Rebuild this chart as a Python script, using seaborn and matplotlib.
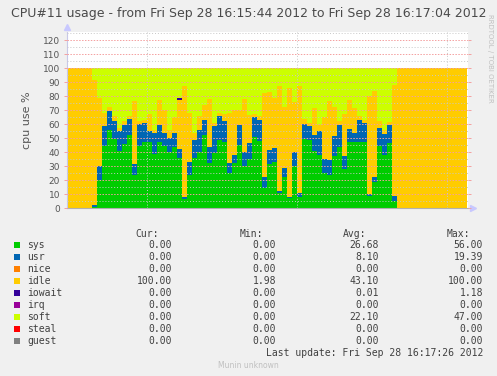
import numpy as np
import pandas as pd
import seaborn as sns
import matplotlib
matplotlib.use("Agg")
import matplotlib.pyplot as plt
from matplotlib.patches import Rectangle

# one sample per second, 16:15:44 -> 16:17:04
sys_vals = [0, 0, 0, 0, 0,
            1.0, 20.0, 44.5, 56.0, 49.5, 41.0, 45.7, 52.4, 24.0, 44.5,
            47.6, 47.6, 38.6, 47.6, 44.8, 40.0, 43.6, 36.0, 6.7, 24.0,
            36.0, 40.5, 52.4, 32.6, 39.8, 48.8, 47.6, 25.0, 32.0, 45.0,
            30.0, 35.0, 51.0, 48.3, 14.8, 31.5, 33.0, 11.0, 22.6, 7.0,
            30.0, 8.3, 49.3, 48.8, 41.2, 38.0, 25.5, 23.8, 37.4, 43.6,
            27.9, 47.6, 47.0, 47.0, 47.0, 8.8, 19.0, 44.5, 38.0, 46.4,
            5.5,
            0, 0, 0, 0, 0, 0, 0, 0, 0, 0, 0, 0, 0, 0]
usr_vals = [0, 0, 0, 0, 0,
            1.0, 10.0, 14.5, 13.5, 13.1, 14.0, 13.8, 11.2, 7.7, 15.5,
            13.1, 7.4, 15.4, 11.9, 9.2, 10.0, 10.0, 6.4, 1.6, 9.0,
            12.8, 15.5, 10.6, 11.0, 19.0, 17.2, 14.4, 7.0, 6.0, 14.5,
            10.0, 11.4, 14.0, 14.7, 7.8, 9.8, 9.9, 1.6, 6.4, 1.3,
            10.5, 2.7, 10.9, 10.0, 11.2, 17.2, 9.5, 10.7, 14.3, 15.9,
            9.5, 8.8, 7.0, 16.0, 14.2, 1.2, 3.0, 12.5, 15.0, 13.1,
            3.3,
            0, 0, 0, 0, 0, 0, 0, 0, 0, 0, 0, 0, 0, 0]
idle_vals = [100, 100, 100, 100, 100,
             89.7, 48.6, 8.9, 2.5, 2.9, 2.0, 2.5, 2.0, 45.0, 2.0,
             2.0, 12.0, 2.0, 17.5, 16.0, 6.0, 11.4, 35.0, 79.1, 35.0,
             4.8, 10.0, 10.8, 34.3, 2.0, 2.0, 5.4, 36.3, 32.0, 10.5,
             38.0, 20.3, 2.4, 3.0, 60.0, 42.0, 35.7, 74.8, 43.0, 77.4,
             35.0, 76.4, 3.4, 2.0, 19.0, 4.3, 30.0, 41.7, 20.9, 2.9,
             30.0, 21.0, 17.4, 3.0, 2.0, 70.0, 61.8, 5.0, 3.0, 2.0,
             79.2,
             100, 100, 100, 100, 100, 100, 100, 100, 100, 100, 100, 100, 100, 100]
iowait_vals = [0] * 22 + [1.2] + [0] * 57
soft_vals = [0, 0, 0, 0, 0,
             8.3, 21.4, 32.1, 28.0, 34.5, 43.0, 38.0, 34.4, 23.3, 38.0,
             37.3, 33.0, 44.0, 23.0, 30.0, 44.0, 35.0, 21.4, 12.6, 32.0,
             46.4, 34.0, 26.2, 22.1, 39.2, 32.0, 32.6, 31.7, 30.0, 30.0,
             22.0, 33.3, 32.6, 34.0, 17.4, 16.7, 21.4, 12.6, 28.0, 14.3,
             24.5, 12.6, 36.4, 39.2, 28.6, 40.5, 35.0, 23.8, 27.4, 37.6,
             32.6, 22.6, 28.6, 34.0, 36.8, 20.0, 16.2, 38.0, 44.0, 38.5,
             12.0,
             0, 0, 0, 0, 0, 0, 0, 0, 0, 0, 0, 0, 0, 0]
nice_vals = [0] * 80
irq_vals = [0] * 80
steal_vals = [0] * 80
guest_vals = [0] * 80

series = ['sys', 'usr', 'nice', 'idle', 'iowait', 'irq', 'soft', 'steal', 'guest']
colors = {'sys': '#00CC00', 'usr': '#0066B3', 'nice': '#FF8000', 'idle': '#FFCC00',
          'iowait': '#330099', 'irq': '#990099', 'soft': '#CCFF00', 'steal': '#FF0000',
          'guest': '#808080'}
cur = ['0.00', '0.00', '0.00', '100.00', '0.00', '0.00', '0.00', '0.00', '0.00']
mins = ['0.00', '0.00', '0.00', '1.98', '0.00', '0.00', '0.00', '0.00', '0.00']
avgs = ['26.68', '8.10', '0.00', '43.10', '0.01', '0.00', '22.10', '0.00', '0.00']
maxs = ['56.00', '19.39', '0.00', '100.00', '1.18', '0.00', '47.00', '0.00', '0.00']

values = [sys_vals, usr_vals, nice_vals, idle_vals, iowait_vals,
          irq_vals, soft_vals, steal_vals, guest_vals]
frames = []
for name, vals in zip(series, values):
    frames.append(pd.DataFrame({'t': np.arange(len(vals)) + 0.5, 'series': name, 'value': vals}))
data = pd.concat(frames, ignore_index=True)

sns.set_style("white")
plt.rcParams['font.family'] = ['DejaVu Sans']

W, H = 497, 376
fig = plt.figure(figsize=(W / 100, H / 100), dpi=100, facecolor='#F0F0F0')
ax = fig.add_axes([67 / W, 1 - 208.3 / H, 401 / W, (208.3 - 31.7) / H])
ax.set_facecolor('white')

# seaborn stacks the last hue level at the bottom
sns.histplot(data=data, x='t', weights='value', hue='series', hue_order=series[::-1],
             multiple='stack', bins=80, binrange=(0, 80), element='step', palette=colors,
             alpha=1, linewidth=0, legend=False, ax=ax)

ax.set_xlim(0, 80.2)
ax.set_ylim(0, 126)
ax.set_yticks(np.arange(0, 121, 10))
ax.set_yticks(np.arange(5, 126, 10), minor=True)
ax.set_xticks([16, 46, 76])
ax.set_xticklabels([])
ax.set_xlabel('')
ax.set_ylabel('cpu use %', fontsize=8, color='#555555', labelpad=8)
ax.set_axisbelow(False)
ax.grid(axis='y', which='major', color='#F4A0A0', linestyle=(0, (1.5, 1.5)), linewidth=0.7)
ax.grid(axis='y', which='minor', color='#C8C8C8', linestyle=(0, (1, 2)), linewidth=0.7)
ax.grid(axis='x', which='major', color='#C8C8C8', linestyle=(0, (1, 2)), linewidth=0.7)
ax.tick_params(axis='y', which='major', labelsize=6.5, labelcolor='#555555', color='#F4A0A0',
               length=2, width=0.7, direction='out', left=True, right=True, pad=3)
ax.tick_params(axis='y', which='minor', length=0)
ax.tick_params(axis='x', length=0)
for s in ['top', 'right']:
    ax.spines[s].set_visible(False)
ax.spines['left'].set_color('#C8C8E8')
ax.spines['left'].set_linewidth(0.8)
ax.spines['bottom'].set_color('#B0B0B0')
ax.spines['bottom'].set_linewidth(0.8)
ax.plot([0], [1.025], marker='^', ms=5, color='#C8C8FF', transform=ax.transAxes, clip_on=False)
ax.plot([1.012], [0], marker='>', ms=5, color='#C8C8FF', transform=ax.transAxes, clip_on=False)

fig.text(0.5, 1 - 13 / H,
         'CPU#11 usage - from Fri Sep 28 16:15:44 2012 to Fri Sep 28 16:17:04 2012',
         ha='center', va='center', fontsize=9, color='#4a4a4a')
fig.text(490 / W, 1 - 14 / H, 'RRDTOOL / TOBI OETIKER', rotation=270, ha='center', va='top',
         fontsize=5, color='#C0C0C0')


def px_text(x, y, s, ha='left', **kw):
    fig.text(x / W, 1 - y / H, s, ha=ha, va='center', family='DejaVu Sans Mono',
             fontsize=7, color='#404040', **kw)


col_right = [172, 276, 379, 483]
for xr, head in zip(col_right, ['Cur:', 'Min:', 'Avg:', 'Max:']):
    px_text(xr - 13, 234, head, ha='right')
for i, name in enumerate(series):
    y = 245 + i * 12.05
    fig.add_artist(Rectangle((14 / W, 1 - (y + 3) / H), 6 / W, 6 / H,
                             transform=fig.transFigure, color=colors[name], lw=0))
    px_text(27, y, name)
    for xr, col in zip(col_right, [cur, mins, avgs, maxs]):
        px_text(xr, y, col[i], ha='right')
px_text(483, 353.5, 'Last update: Fri Sep 28 16:17:26 2012', ha='right')
fig.text(248 / W, 1 - 366 / H, 'Munin unknown', ha='center', va='center', fontsize=5.5,
         color='#C0C0C0')

fig.savefig('out.png', dpi=100, facecolor=fig.get_facecolor())
